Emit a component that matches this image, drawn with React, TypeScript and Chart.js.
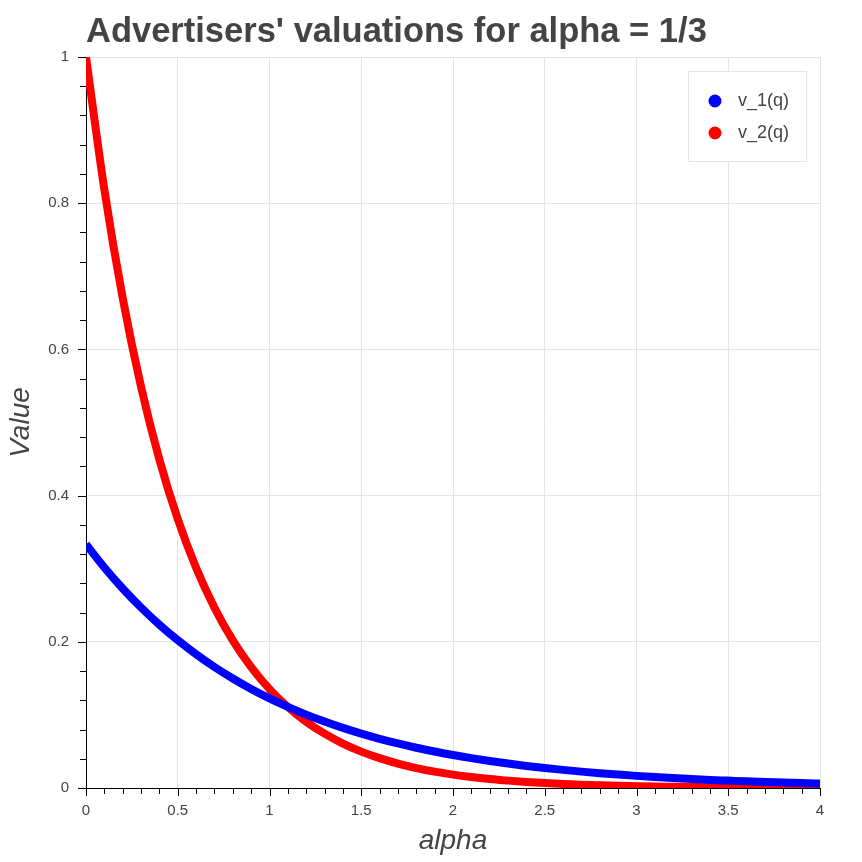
import React, { useEffect, useRef } from "react";
import { Chart, registerables } from "chart.js";

Chart.register(...registerables);

const alphaValues = [
  0, 0.1, 0.2, 0.3, 0.4, 0.5, 0.6, 0.7, 0.8, 0.9, 1.0, 1.1, 1.2, 1.3, 1.4, 1.5, 1.6, 1.7, 1.8, 1.9, 2.0,
  2.1, 2.2, 2.3, 2.4, 2.5, 2.6, 2.7, 2.8, 2.9, 3.0, 3.1, 3.2, 3.3, 3.4, 3.5, 3.6, 3.7, 3.8, 3.9, 4.0,
];
const v1Values = [
  0.3333, 0.3016, 0.2729, 0.2469, 0.2234, 0.2022, 0.1829, 0.1655, 0.1498, 0.1355, 0.1226, 0.111, 0.1004,
  0.0909, 0.0822, 0.0744, 0.0673, 0.0609, 0.0551, 0.0499, 0.0451, 0.0408, 0.0369, 0.0334, 0.0302, 0.0274,
  0.0248, 0.0224, 0.0203, 0.0184, 0.0166, 0.015, 0.0136, 0.0123, 0.0111, 0.0101, 0.0091, 0.0082, 0.0075,
  0.0067, 0.0061,
];
const v2Values = [
  1.0, 0.8187, 0.6703, 0.5488, 0.4493, 0.3679, 0.3012, 0.2466, 0.2019, 0.1653, 0.1353, 0.1108, 0.0907,
  0.0743, 0.0608, 0.0498, 0.0408, 0.0334, 0.0273, 0.0224, 0.0183, 0.015, 0.0123, 0.0101, 0.0082, 0.0067,
  0.0055, 0.0045, 0.0037, 0.003, 0.0025, 0.002, 0.0017, 0.0014, 0.0011, 0.0009, 0.0007, 0.0006, 0.0005,
  0.0004, 0.0003,
];
const seriesLabels = ["v_1(q)", "v_2(q)"];
const seriesColors = ["#0000ff", "#ff0000"];
const titleText = "Advertisers' valuations for alpha = 1/3";

const FONT = "'Liberation Sans', Arial, Helvetica, sans-serif";
const TEXT = "#444444";

const fmt = (v: any) => parseFloat(Number(v).toFixed(2)).toString();

const extrasPlugin = {
  id: "extras",
  afterDraw(chart: any) {
    const ctx = chart.ctx as CanvasRenderingContext2D;
    const area = chart.chartArea;
    const xs = chart.scales.x;
    const ys = chart.scales.y;
    ctx.save();
    ctx.strokeStyle = "#000000";
    ctx.lineWidth = 1;
    ctx.beginPath();
    for (let i = 0; i <= 40; i++) {
      const px = Math.round(xs.getPixelForValue(i / 10)) + 0.5;
      const len = i % 5 === 0 ? 8 : 6;
      ctx.moveTo(px, area.bottom);
      ctx.lineTo(px, area.bottom + len);
    }
    for (let i = 0; i <= 25; i++) {
      const py = Math.round(ys.getPixelForValue(i * 0.04)) + 0.5;
      const len = i % 5 === 0 ? 8 : 6;
      ctx.moveTo(area.left, py);
      ctx.lineTo(area.left - len, py);
    }
    ctx.stroke();

    ctx.fillStyle = TEXT;
    ctx.font = `bold 34.5px ${FONT}`;
    ctx.textAlign = "left";
    ctx.textBaseline = "alphabetic";
    ctx.fillText(titleText, area.left, 42);

    const bx = area.right - 132;
    const by = area.top + 14;
    const bw = 118;
    const bh = 90;
    ctx.fillStyle = "rgba(255,255,255,0.95)";
    ctx.fillRect(bx, by, bw, bh);
    ctx.strokeStyle = "#e5e5e5";
    ctx.lineWidth = 1;
    ctx.strokeRect(bx + 0.5, by + 0.5, bw, bh);
    ctx.font = `18px ${FONT}`;
    ctx.textBaseline = "middle";
    seriesLabels.forEach((lab, i) => {
      const cy = by + 30 + i * 32;
      ctx.fillStyle = seriesColors[i];
      ctx.beginPath();
      ctx.arc(bx + 27, cy, 6.5, 0, Math.PI * 2);
      ctx.fill();
      ctx.fillStyle = TEXT;
      ctx.fillText(lab, bx + 50, cy);
    });
    ctx.restore();
  },
};

export default function App() {
  const ref = useRef<HTMLCanvasElement | null>(null);
  useEffect(() => {
    if (!ref.current) return;
    const mk = (vals: number[]) => alphaValues.map((x, i) => ({ x, y: vals[i] }));
    const chart = new Chart(ref.current, {
      type: "line",
      data: {
        datasets: seriesLabels.map((label, k) => ({
          label,
          data: mk(k === 0 ? v1Values : v2Values),
          borderColor: seriesColors[k],
          borderWidth: 8,
          pointRadius: 0,
          cubicInterpolationMode: "monotone",
          clip: 0,
        })) as any,
      },
      options: {
        animation: false,
        responsive: true,
        maintainAspectRatio: false,
        layout: { padding: { top: 57, right: 42, left: 0, bottom: 0 } },
        plugins: { legend: { display: false }, tooltip: { enabled: false }, title: { display: false } },
        scales: {
          x: {
            type: "linear",
            min: 0,
            max: 4,
            afterFit: (s: any) => {
              s.height = 74;
            },
            ticks: {
              stepSize: 0.5,
              color: TEXT,
              font: { family: FONT, size: 15 },
              padding: 14,
              maxRotation: 0,
              callback: fmt,
            },
            grid: { color: "#e5e5e5", lineWidth: 1, drawTicks: false },
            border: { color: "#000000", width: 1 },
            title: {
              display: true,
              text: "alpha",
              color: TEXT,
              font: { family: FONT, size: 28, style: "italic" },
              padding: { top: 0, bottom: 4 },
            },
          },
          y: {
            type: "linear",
            min: 0,
            max: 1,
            afterFit: (s: any) => {
              s.width = 86;
            },
            ticks: {
              stepSize: 0.2,
              color: TEXT,
              font: { family: FONT, size: 15 },
              padding: 17,
              callback: fmt,
            },
            grid: { color: "#e5e5e5", lineWidth: 1, drawTicks: false },
            border: { color: "#000000", width: 1 },
            title: {
              display: true,
              text: "Value",
              color: TEXT,
              font: { family: FONT, size: 28, style: "italic" },
              padding: { top: 4, bottom: 0 },
            },
          },
        },
      },
      plugins: [extrasPlugin],
    });
    return () => chart.destroy();
  }, []);
  return (
    <div style={{ position: "absolute", left: 0, top: 0, width: 862, height: 862 }}>
      <canvas ref={ref} />
    </div>
  );
}
